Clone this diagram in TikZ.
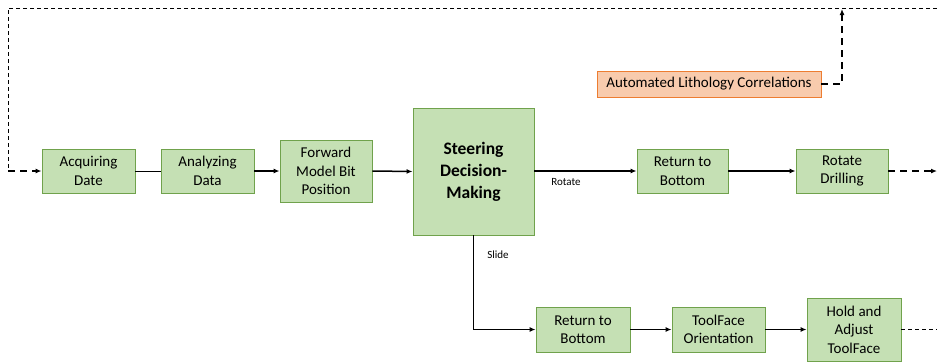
\documentclass[tikz,border=0pt]{standalone}
\usepackage{fontspec}
\setmainfont{Carlito}
\usetikzlibrary{arrows.meta}
\definecolor{boxfill}{HTML}{C5E0B4}
\definecolor{boxline}{HTML}{70A24C}
\definecolor{orfill}{HTML}{F8CBAD}
\definecolor{orline}{HTML}{ED7D31}
\begin{document}
\begin{tikzpicture}[x=1pt,y=-1pt,
  box/.style={draw=boxline, fill=boxfill, line width=0.9pt, align=center, inner sep=0pt, font=\fontsize{15}{18.5}\selectfont},
  obox/.style={draw=orline, fill=orfill, line width=0.9pt, align=center, inner sep=0pt, font=\fontsize{15}{18.5}\selectfont},
  tip/.style={-{Latex[length=6pt,width=5pt]}},
  thickline/.style={line width=1.5pt},
  thinline/.style={line width=0.7pt},
  bigdash/.style={dash pattern=on 7pt off 5pt},
  smalldash/.style={dash pattern=on 4pt off 3pt},
  lbl/.style={font=\fontsize{11}{13}\selectfont, inner sep=0pt}
]
\useasboundingbox (0,0) rectangle (937,362);
\fill[white] (0,0) rectangle (937,362);

\node[box, minimum width=93pt, minimum height=44pt] (acq) at (88.5,171) {Acquiring\\Date};
\node[box, minimum width=93pt, minimum height=44pt] (ana) at (207.5,171) {Analyzing\\Data};
\node[box, minimum width=92pt, minimum height=62pt] (fwd) at (326,171) {Forward\\Model Bit\\Position};
\node[box, minimum width=121pt, minimum height=127pt, font=\fontsize{17.5}{22}\selectfont\bfseries] (steer) at (473.5,171.5) {Steering\\Decision-\\Making};
\node[box, minimum width=91pt, minimum height=44pt] (rb1) at (682.5,171) {Return to\\Bottom};
\node[box, minimum width=92pt, minimum height=44pt] (rd) at (842,171) {Rotate\\Drilling};
\node[box, minimum width=94pt, minimum height=45pt] (rb2) at (583,329.5) {Return to\\Bottom};
\node[box, minimum width=93pt, minimum height=45pt] (tfo) at (718.5,329.5) {ToolFace\\Orientation};
\node[box, minimum width=94pt, minimum height=63pt] (hold) at (854,329.5) {Hold and\\Adjust\\ToolFace};
\node[obox, minimum width=224pt, minimum height=26pt] (lith) at (709,84) {Automated Lithology Correlations};

\coordinate (tr) at (937,8);
\coordinate (tl) at (8,8);
\coordinate (bl) at (8,171);
\coordinate (up) at (842,9);
\coordinate (rdend) at (937,171);
\coordinate (holdend) at (937,329.5);

\draw[thinline, smalldash] (tr) -- (tl) -- (bl);
\draw[thickline, bigdash, tip] (bl) -- (acq.west);
\draw[thinline] (acq.east) -- (ana.west);
\draw[thickline, tip] (ana.east) -- (fwd.west);
\draw[thickline, tip] (fwd.east) -- (steer.west);
\draw[thickline, tip] (steer.east |- rb1.west) -- (rb1.west);
\draw[thickline, tip] (rb1.east) -- (rd.west);
\draw[thickline, bigdash, tip] (rd.east) -- (rdend);
\draw[thickline, tip] (steer.south) |- (rb2.west);
\draw[thickline, tip] (rb2.east) -- (tfo.west);
\draw[thickline, tip] (tfo.east) -- (hold.west);
\draw[thinline, smalldash] (hold.east) -- (holdend);
\draw[thickline, bigdash, tip] (lith.east) -| (up);

\node[lbl] (rotlbl) at (566,182) {Rotate};
\node[lbl] (slidelbl) at (498,255) {Slide};
\end{tikzpicture}
\end{document}
